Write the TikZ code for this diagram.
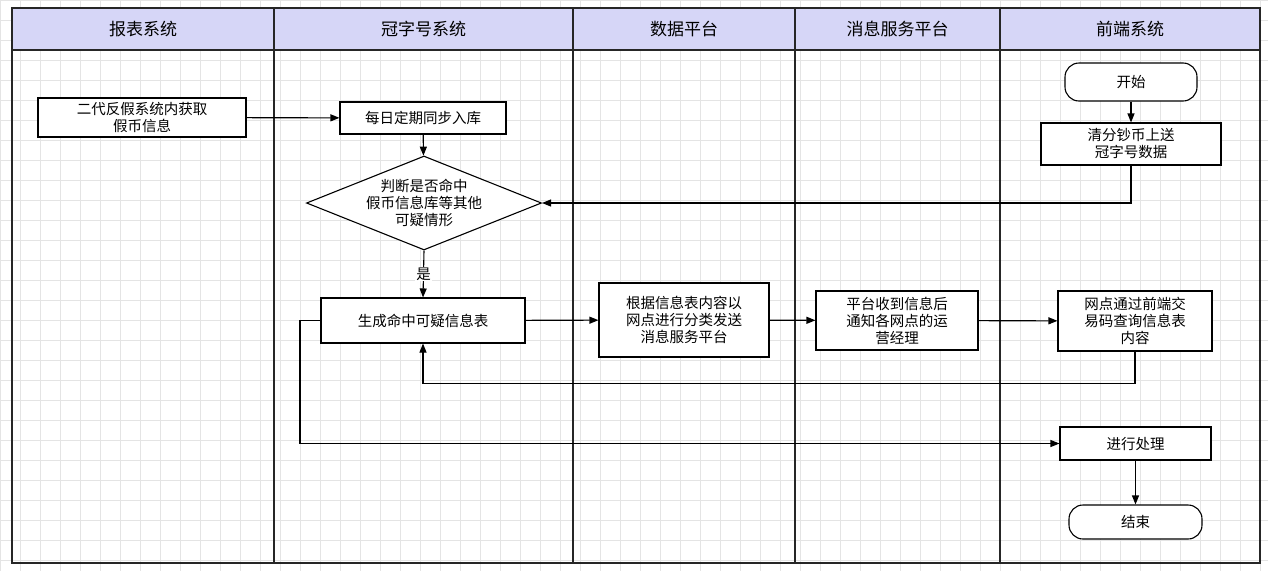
\documentclass[tikz,border=0pt]{standalone}
\usepackage{fontspec}
\setmainfont{Noto Sans CJK SC}
\usetikzlibrary{shapes.geometric,arrows.meta}
\definecolor{hdr}{HTML}{D6D6F7}
\definecolor{gridc}{HTML}{E4E4E4}
\begin{document}
\begin{tikzpicture}[x=1pt,y=-1pt,
  box/.style={draw,line width=1.1pt,fill=white,align=center,inner sep=0pt,font=\fontsize{14.5}{17}\selectfont},
  term/.style={box,rounded corners=14pt},
  arr/.style={line width=1.1pt,-{Triangle[length=9pt,width=7pt]}},
  lane/.style={line width=2pt,draw=black!85}]
\useasboundingbox (0,0) rectangle (1268,571);
\fill[white] (0,0) rectangle (1268,571);
\foreach \x in {0,20,...,1260} \draw[gridc,line width=0.6pt] (\x,0) -- (\x,571);
\foreach \y in {0,20,...,571} \draw[gridc,line width=0.6pt] (0,\y) -- (1268,\y);
\fill[hdr] (12,8) rectangle (1260,50);
\draw[lane] (12,8) rectangle (1260,563);
\draw[lane] (12,50) -- (1260,50);
\foreach \x in {274,573,795,1000} \draw[lane] (\x,8) -- (\x,563);
\foreach \a/\b/\t in {12/274/报表系统,274/573/冠字号系统,573/795/数据平台,795/1000/消息服务平台,1000/1260/前端系统}
  \node[font=\fontsize{17}{20}\selectfont] (h\t) at ({(\a+\b)/2},29) {\t};

\node[box,minimum width=208pt,minimum height=39pt] (a) at (142,117.5) {二代反假系统内获取\\假币信息};
\node[box,minimum width=166pt,minimum height=32pt] (b) at (423,118) {每日定期同步入库};
\node[diamond,draw,line width=1.1pt,fill=white,align=center,inner sep=0pt,minimum width=232pt,minimum height=92pt,aspect=2.5,font=\fontsize{14.5}{17}\selectfont] (d) at (424,203) {判断是否命中\\假币信息库等其他\\可疑情形};
\node[box,minimum width=204pt,minimum height=45pt] (g) at (423,320.5) {生成命中可疑信息表};
\node[box,minimum width=170pt,minimum height=74pt] (s) at (684,320) {根据信息表内容以\\网点进行分类发送\\消息服务平台};
\node[box,minimum width=162pt,minimum height=59pt] (p) at (897,320.5) {平台收到信息后\\通知各网点的运\\营经理};
\node[term,minimum width=132pt,minimum height=38pt] (st) at (1131,82) {开始};
\node[box,minimum width=180pt,minimum height=42pt] (q) at (1131,144) {清分钞币上送\\冠字号数据};
\node[box,minimum width=154pt,minimum height=60pt] (w) at (1135,321) {网点通过前端交\\易码查询信息表\\内容};
\node[box,minimum width=151pt,minimum height=33pt] (j) at (1135.5,443.5) {进行处理};
\node[term,minimum width=133pt,minimum height=34pt] (e) at (1135.5,522) {结束};

\draw[arr] (a) -- (b);
\draw[arr] (b) -- (d);
\draw[arr] (q.south) |- (d.east);
\draw[arr] (d.south) -- node[fill=white,inner sep=1pt,font=\fontsize{14.5}{17}\selectfont]{是} (g.north);
\draw[arr] (g) -- (s);
\draw[arr] (s) -- (p);
\draw[arr] (p) -- (w);
\draw[arr] (w.south) -- ++(0,32) -| (g.south);
\draw[arr] (g.west) -- (300,320.5) |- (j.west);
\draw[arr] (j) -- (e);
\draw[arr] (st) -- (q);
\end{tikzpicture}
\end{document}
